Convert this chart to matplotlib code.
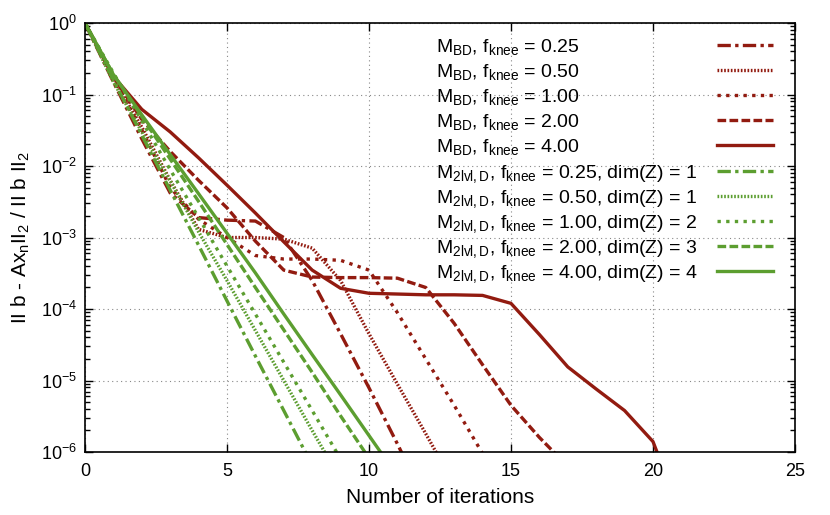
import numpy as np
import matplotlib
matplotlib.use('Agg')
from matplotlib import pyplot as plt
from matplotlib.ticker import LogLocator, NullFormatter

plt.rcParams['font.family'] = ['Liberation Sans', 'DejaVu Sans']
plt.rcParams['mathtext.fontset'] = 'custom'
plt.rcParams['mathtext.rm'] = 'Liberation Sans'
plt.rcParams['mathtext.it'] = 'Liberation Sans:italic'
plt.rcParams['mathtext.bf'] = 'Liberation Sans:bold'

# Residual history (iteration 0, 1, 2, ...)
bd_025 = [1, 1.5e-1, 2.4e-2, 4.2e-3, 1.9e-3, 1.75e-3, 1.7e-3, 1.0e-3, 2.5e-4,
          4.5e-5, 7.9e-6, 1.3e-6, 2.0e-7]
bd_050 = [1, 1.65e-1, 3.5e-2, 6.3e-3, 1.3e-3, 1.0e-3, 1.0e-3, 9.5e-4, 7.1e-4,
          2.5e-4, 4.5e-5, 8.9e-6, 1.8e-6, 3.5e-7]
bd_100 = [1, 1.65e-1, 3.2e-2, 5.0e-3, 1.8e-3, 1.0e-3, 5.6e-4, 5.0e-4, 5.0e-4,
          4.8e-4, 3.5e-4, 8.9e-5, 2.0e-5, 4.5e-6, 9.5e-7, 2.2e-7]
bd_200 = [1, 1.75e-1, 4.5e-2, 1.6e-2, 6.3e-3, 2.6e-3, 8.9e-4, 3.5e-4, 2.8e-4,
          2.75e-4, 2.75e-4, 2.7e-4, 2.0e-4, 6.3e-5, 1.66e-5, 4.5e-6, 1.6e-6, 6.3e-7]
bd_400 = [1, 1.8e-1, 6.2e-2, 3.0e-2, 1.3e-2, 5.4e-3, 2.2e-3, 8.7e-4, 3.5e-4,
          1.95e-4, 1.66e-4, 1.62e-4, 1.58e-4, 1.58e-4, 1.55e-4, 1.2e-4, 4.4e-5,
          1.55e-5, 7.6e-6, 3.8e-6, 1.4e-6, 1.3e-7]

lvl_025 = [1, 1.6e-1, 2.7e-2, 4.6e-3, 7.8e-4, 1.3e-4, 2.2e-5, 3.8e-6, 6.5e-7]
lvl_050 = [1, 1.5e-1, 3.0e-2, 6.2e-3, 1.2e-3, 2.5e-4, 5.0e-5, 1.0e-5, 2.0e-6, 4.1e-7]
lvl_100 = [1, 2.0e-1, 4.3e-2, 8.9e-3, 1.9e-3, 4.0e-4, 8.5e-5, 1.8e-5, 3.8e-6, 8.0e-7]
lvl_200 = [1, 1.9e-1, 4.9e-2, 1.25e-2, 3.2e-3, 8.0e-4, 2.0e-4, 5.1e-5, 1.3e-5,
           3.2e-6, 8.2e-7]
lvl_400 = [1, 1.9e-1, 5.2e-2, 1.45e-2, 4.1e-3, 1.15e-3, 3.2e-4, 8.5e-5, 2.3e-5,
           6.3e-6, 1.7e-6, 4.6e-7]

bd_labels = [r'$\mathrm{M_{BD}}$, $\mathrm{f_{knee}}$ = 0.25',
             r'$\mathrm{M_{BD}}$, $\mathrm{f_{knee}}$ = 0.50',
             r'$\mathrm{M_{BD}}$, $\mathrm{f_{knee}}$ = 1.00',
             r'$\mathrm{M_{BD}}$, $\mathrm{f_{knee}}$ = 2.00',
             r'$\mathrm{M_{BD}}$, $\mathrm{f_{knee}}$ = 4.00']
lvl_labels = [r'$\mathrm{M_{2lvl,D}}$, $\mathrm{f_{knee}}$ = 0.25, dim(Z) = 1',
              r'$\mathrm{M_{2lvl,D}}$, $\mathrm{f_{knee}}$ = 0.50, dim(Z) = 1',
              r'$\mathrm{M_{2lvl,D}}$, $\mathrm{f_{knee}}$ = 1.00, dim(Z) = 2',
              r'$\mathrm{M_{2lvl,D}}$, $\mathrm{f_{knee}}$ = 2.00, dim(Z) = 3',
              r'$\mathrm{M_{2lvl,D}}$, $\mathrm{f_{knee}}$ = 4.00, dim(Z) = 4']

red = '#921b10'
green = '#5c9e30'
styles = [(0, (4, 1.3, 1, 1.3)),   # dash-dot
          (0, (0.5, 0.5)),         # fine dots
          (0, (1, 1.6)),           # dots
          (0, (2.6, 1.0)),         # dashes
          '-']

fig = plt.figure(figsize=(8.3, 5.15), dpi=100)
ax = fig.add_axes([0.1024, 0.1223, 0.8554, 0.833])

key = []
for vals, lab, ls in zip([bd_025, bd_050, bd_100, bd_200, bd_400], bd_labels, styles):
    ax.plot(np.arange(len(vals)), vals, color=red, ls=ls, lw=2.4)
    key.append((lab, red, ls))
for vals, lab, ls in zip([lvl_025, lvl_050, lvl_100, lvl_200, lvl_400], lvl_labels, styles):
    ax.plot(np.arange(len(vals)), vals, color=green, ls=ls, lw=2.4)
    key.append((lab, green, ls))

ax.set_yscale('log')
ax.set_xlim(0, 25)
ax.set_ylim(1e-6, 1)
ax.set_xticks([0, 5, 10, 15, 20, 25])
ax.yaxis.set_major_locator(LogLocator(base=10, numticks=10))
ax.yaxis.set_minor_locator(LogLocator(base=10, subs=np.arange(2, 10), numticks=10))
ax.yaxis.set_minor_formatter(NullFormatter())
ax.tick_params(which='both', direction='in', top=True, right=True, labelsize=13)
ax.tick_params(axis='x', pad=8)
ax.tick_params(axis='y', pad=6)
ax.tick_params(which='major', length=6, width=1)
ax.tick_params(which='minor', length=3.5, width=1)
ax.grid(True, which='major', ls=(0, (1, 3)), color='#888888', lw=0.8)
for sp in ax.spines.values():
    sp.set_linewidth(1.2)

ax.set_xlabel('Number of iterations', fontsize=15, labelpad=6)
ax.set_ylabel(r'II b - Ax$\mathrm{_n}$II$\mathrm{_2}$ / II b II$\mathrm{_2}$',
              fontsize=15, labelpad=6)

# gnuplot style key: text left aligned, line sample on the right
def px(x, y):
    return (x - 85) / 710.0, (452 - y) / 429.0

for i, (lab, col, ls) in enumerate(key):
    yrow = 45 + 25.1 * i
    tx, ty = px(436, yrow + 7)
    ax.text(tx, ty, lab, transform=ax.transAxes, fontsize=14,
            ha='left', va='baseline')
    x0, y0 = px(717, yrow)
    x1, _ = px(773, yrow)
    ax.plot([x0, x1], [y0, y0], transform=ax.transAxes, color=col,
            ls=ls, lw=2.4, clip_on=False)

fig.savefig('out.png', dpi=100)
